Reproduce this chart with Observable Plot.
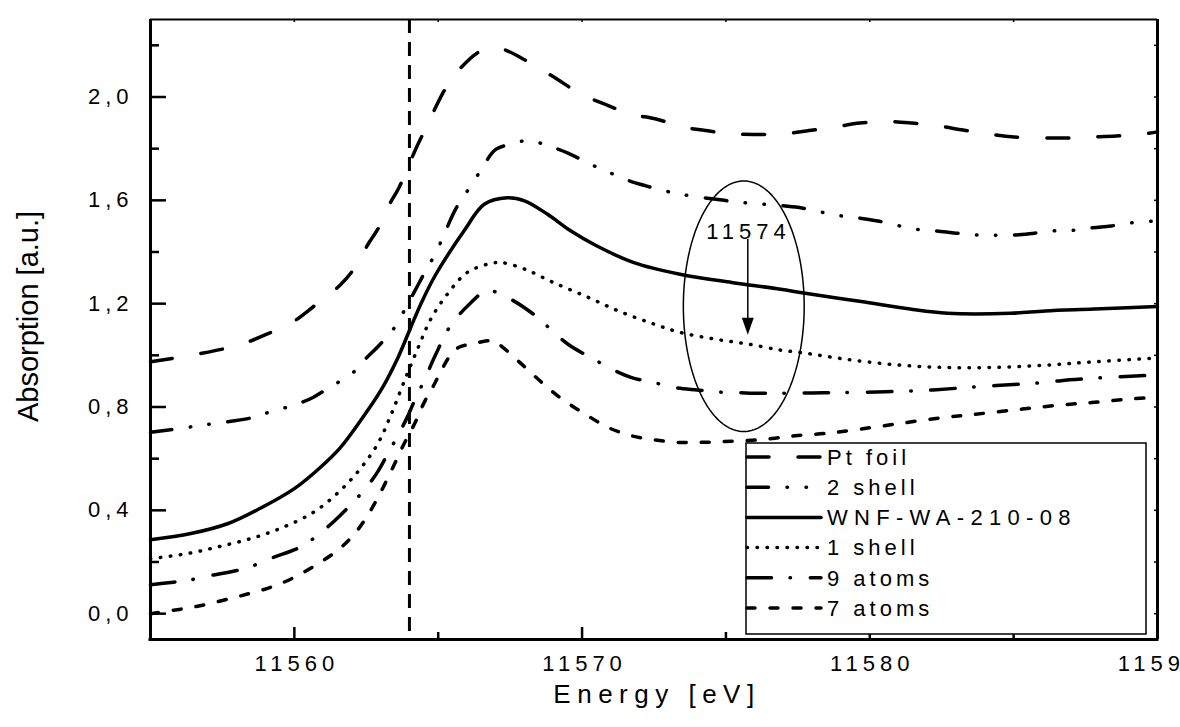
<!DOCTYPE html>
<html><head><meta charset="utf-8">
<script src="https://cdn.jsdelivr.net/npm/d3@7"></script>
<script src="https://cdn.jsdelivr.net/npm/@observablehq/plot@0.6"></script>
<style>
html,body{margin:0;padding:0;background:#fff;overflow:hidden;}
#wrap{position:relative;width:1180px;height:727px;}
#wrap svg{font-family:"Liberation Sans",Arial,sans-serif;}
.legend text{letter-spacing:4px;}
</style></head><body><div id="wrap"></div>
<script>
// ---- axes / ticks ----
const xDomain = [11555, 11590];
const yDomain = [-0.1, 2.3];
const xMajor = [11560, 11570, 11580, 11590];
const xMajorLabels = ["11560", "11570", "11580", "11590"];
const xMinor = [11565, 11575, 11585];
const yMajor = [0, 0.4, 0.8, 1.2, 1.6, 2.0];
const yMajorLabels = ["0,0", "0,4", "0,8", "1,2", "1,6", "2,0"];
const yMinor = [0.2, 0.6, 1.0, 1.4, 1.8, 2.2];
const xTitle = ["Energy [eV]"];
const yTitle = ["Absorption [a.u.]"];

// ---- series ----
const seriesNames = ["Pt foil", "2 shell", "WNF-WA-210-08", "1 shell", "9 atoms", "7 atoms"];

const ptFoil = [[11555,0.975],[11556.7,1.006],[11558.1,1.041],[11559.0,1.080],[11559.9,1.126],[11560.7,1.192],[11561.6,1.273],[11562.1,1.339],[11562.55,1.428],[11562.93,1.494],[11563.28,1.579],[11563.63,1.648],[11563.94,1.726],[11564.22,1.799],[11564.57,1.880],[11564.88,1.953],[11565.26,2.034],[11565.68,2.100],[11566.41,2.174],[11566.83,2.187],[11567.24,2.185],[11568.15,2.135],[11569.02,2.077],[11569.96,2.011],[11570.79,1.972],[11571.70,1.934],[11572.57,1.915],[11573.50,1.884],[11574.37,1.869],[11575.28,1.857],[11576.15,1.855],[11577.02,1.858],[11577.89,1.870],[11578.79,1.884],[11579.66,1.899],[11580.60,1.905],[11581.47,1.899],[11582.37,1.888],[11583.24,1.872],[11584.11,1.857],[11585.02,1.845],[11586.79,1.841],[11587.70,1.845],[11588.57,1.849],[11589.50,1.857],[11590,1.865]];

const twoShell = [[11555,0.702],[11556.2,0.720],[11557.2,0.736],[11558.55,0.759],[11559.28,0.786],[11559.94,0.805],[11560.63,0.836],[11561.26,0.879],[11561.96,0.925],[11562.41,0.979],[11563.0,1.045],[11563.45,1.103],[11564.04,1.219],[11564.32,1.277],[11564.60,1.335],[11564.91,1.395],[11565.26,1.482],[11565.61,1.567],[11566.25,1.675],[11566.59,1.737],[11567.0,1.797],[11567.58,1.819],[11568.16,1.832],[11568.74,1.814],[11569.49,1.784],[11570.25,1.742],[11570.88,1.711],[11571.58,1.678],[11572.22,1.656],[11572.97,1.634],[11573.55,1.621],[11574.94,1.600],[11575.64,1.591],[11576.33,1.585],[11577.55,1.572],[11578.42,1.552],[11579.0,1.540],[11579.66,1.531],[11580.28,1.520],[11581.03,1.501],[11581.61,1.488],[11582.30,1.482],[11583.0,1.473],[11583.75,1.466],[11584.33,1.465],[11585.09,1.466],[11585.72,1.473],[11586.42,1.482],[11587.06,1.484],[11587.75,1.494],[11588.39,1.501],[11589.15,1.514],[11590,1.520]];

const wnfSample = [[11555,0.286],[11556.4,0.310],[11557.7,0.349],[11558.8,0.407],[11560.0,0.484],[11560.9,0.566],[11561.6,0.643],[11562.3,0.747],[11563.0,0.863],[11563.6,0.991],[11564.04,1.107],[11564.4,1.200],[11564.9,1.310],[11565.9,1.482],[11566.6,1.585],[11567.4,1.610],[11568.0,1.598],[11568.8,1.546],[11569.6,1.482],[11570.5,1.424],[11571.8,1.359],[11573.4,1.314],[11575.2,1.282],[11576.9,1.256],[11577.7,1.241],[11579.7,1.208],[11581.4,1.179],[11582.7,1.163],[11584.9,1.163],[11586.1,1.172],[11587.8,1.179],[11590,1.189]];

const oneShell = [[11555,0.213],[11556.3,0.233],[11557.4,0.260],[11558.5,0.291],[11559.6,0.334],[11560.7,0.395],[11561.6,0.477],[11562.3,0.562],[11562.9,0.658],[11563.35,0.767],[11563.8,0.894],[11564.3,1.029],[11564.74,1.140],[11565.32,1.237],[11566.0,1.320],[11566.8,1.355],[11567.2,1.359],[11568.0,1.334],[11569.0,1.282],[11570.2,1.225],[11571.3,1.170],[11572.4,1.125],[11573.4,1.089],[11574.6,1.063],[11575.75,1.044],[11576.9,1.020],[11577.6,1.011],[11579.1,0.986],[11580.85,0.964],[11582.6,0.953],[11584.3,0.953],[11586.1,0.962],[11587.8,0.975],[11590,0.990]];

const nineAtoms = [[11555,0.112],[11555.8,0.122],[11556.3,0.129],[11557.2,0.150],[11558.0,0.167],[11558.6,0.187],[11559.2,0.215],[11560.2,0.257],[11560.8,0.303],[11561.4,0.360],[11562.1,0.438],[11562.5,0.488],[11562.9,0.550],[11563.3,0.630],[11563.6,0.690],[11563.9,0.755],[11564.2,0.830],[11564.5,0.900],[11564.9,1.000],[11565.4,1.110],[11566.1,1.200],[11566.7,1.250],[11567.4,1.224],[11568.3,1.160],[11568.9,1.102],[11569.5,1.044],[11570.5,0.979],[11571.1,0.943],[11571.7,0.915],[11572.7,0.889],[11573.3,0.874],[11574.0,0.866],[11574.9,0.857],[11575.5,0.855],[11576.2,0.853],[11577.0,0.853],[11578.4,0.855],[11579.9,0.857],[11581.6,0.863],[11582.2,0.866],[11583.8,0.879],[11584.4,0.883],[11586.1,0.895],[11586.65,0.902],[11588.3,0.915],[11588.9,0.918],[11590,0.924]];

const sevenAtoms = [[11555,0.0],[11555.8,0.013],[11556.6,0.028],[11557.5,0.051],[11558.4,0.077],[11559.2,0.103],[11559.9,0.135],[11560.7,0.185],[11561.5,0.245],[11562.1,0.310],[11562.6,0.390],[11563.0,0.470],[11563.4,0.560],[11563.8,0.655],[11564.2,0.740],[11564.5,0.815],[11564.85,0.885],[11565.1,0.940],[11565.45,1.005],[11565.7,1.030],[11566.0,1.041],[11566.4,1.050],[11566.9,1.056],[11567.1,1.044],[11567.9,0.966],[11568.6,0.895],[11569.3,0.831],[11570.1,0.773],[11570.9,0.721],[11571.7,0.689],[11572.5,0.673],[11573.3,0.663],[11574.1,0.663],[11574.9,0.666],[11575.75,0.670],[11576.6,0.678],[11577.4,0.689],[11578.5,0.698],[11579.7,0.715],[11581.1,0.737],[11582.6,0.760],[11583.75,0.773],[11585.3,0.792],[11586.65,0.808],[11587.8,0.818],[11589.0,0.831],[11590,0.837]];

const seriesData = [ptFoil, twoShell, wnfSample, oneShell, nineAtoms, sevenAtoms];

// ---- annotations ----
const edgeEnergy = [11564];
const annotationLabel = ["11574"];
const annotationLabelPos = [11575.68, 1.478];
const arrowFrom = [11575.76, 1.45];
const arrowTo = [11575.76, 1.080];
const ellipseCenter = [11575.62, 1.19];
const ellipseRadii = [2.1, 0.485];

// ---- styles (kept separate from data) ----
const lineStyles = [
  {dash: "22,29"},
  {dash: "21.5,18.5,0.5,18.5,0.5,18.5"},
  {dash: null},
  {dash: "0.5,9.5"},
  {dash: "24.5,18.5,0.5,19.8"},
  {dash: "8,15"}
];

const W = 1180, H = 727, mL = 150, mR = 23, mT = 19, mB = 88;
const pw = W - mL - mR, ph = H - mT - mB;

const ellipsePts = d3.range(0, 361, 2).map(a => [
  ellipseCenter[0] + ellipseRadii[0] * Math.cos(a * Math.PI / 180),
  ellipseCenter[1] + ellipseRadii[1] * Math.sin(a * Math.PI / 180)
]);

const downTriangle = {draw(ctx) { ctx.moveTo(0, 0); ctx.lineTo(-6, -17); ctx.lineTo(6, -17); ctx.closePath(); }};

const curveMarks = seriesData.map((data, i) => Plot.line(data, {
  x: d => d[0], y: d => d[1], curve: "catmull-rom",
  stroke: "black", strokeWidth: 3.5, strokeLinecap: "round",
  strokeDasharray: lineStyles[i].dash
}));

const chart = Plot.plot({
  width: W, height: H,
  marginLeft: mL, marginRight: mR, marginTop: mT, marginBottom: mB,
  x: {domain: xDomain, axis: null},
  y: {domain: yDomain, axis: null},
  style: {background: "white", color: "black", fontFamily: "'Liberation Sans', Arial, sans-serif", overflow: "visible"},
  marks: [
    Plot.ruleX(edgeEnergy, {x: d => d, stroke: "black", strokeWidth: 3, strokeDasharray: "14,9"}),
    ...curveMarks,
    Plot.line(ellipsePts, {x: d => d[0], y: d => d[1], stroke: "black", strokeWidth: 1.5, curve: "linear"}),
    Plot.link([0], {x1: () => arrowFrom[0], y1: () => arrowFrom[1], x2: () => arrowTo[0], y2: () => arrowTo[1] + 0.05, stroke: "black", strokeWidth: 1.5}),
    Plot.dot([arrowTo], {x: d => d[0], y: d => d[1], symbol: downTriangle, fill: "black", stroke: "none"}),
    Plot.text(annotationLabel, {x: () => annotationLabelPos[0], y: () => annotationLabelPos[1], text: d => d, fontSize: 22, dx: 3, fill: "black"}),
    // frame
    Plot.ruleX([xDomain[0]], {x: d => d, stroke: "black", strokeWidth: 3}),
    Plot.ruleX([xDomain[1]], {x: d => d, stroke: "black", strokeWidth: 3}),
    Plot.ruleY([yDomain[0]], {y: d => d, stroke: "black", strokeWidth: 3, strokeLinecap: "square"}),
    Plot.ruleY([yDomain[1]], {y: d => d, stroke: "black", strokeWidth: 2}),
    // inward ticks
    Plot.tickY(yMajor, {y: d => d, insetRight: pw - 16, stroke: "black", strokeWidth: 2.5}),
    Plot.tickY(yMinor, {y: d => d, insetRight: pw - 9, stroke: "black", strokeWidth: 2.5}),
    Plot.tickX(xMajor, {x: d => d, insetTop: ph - 12, stroke: "black", strokeWidth: 2.5}),
    Plot.tickX(xMinor, {x: d => d, insetTop: ph - 7, stroke: "black", strokeWidth: 2.5}),
    Plot.tickY([...yMajor, ...yMinor], {y: d => d, insetLeft: pw - 3, stroke: "black", strokeWidth: 1.5}),
    Plot.tickX([...xMajor, ...xMinor], {x: d => d, insetBottom: ph - 3, stroke: "black", strokeWidth: 1.5}),
    // tick labels
    Plot.text(yMajor, {y: d => d, text: (d, i) => yMajorLabels[i], frameAnchor: "left", dx: -17, textAnchor: "end", fontSize: 22, fill: "black"}),
    Plot.text(xMajor, {x: d => d, text: (d, i) => xMajorLabels[i], frameAnchor: "bottom", dy: 31, dx: 2.5, textAnchor: "middle", fontSize: 22, fill: "black"}),
    // titles
    Plot.text(xTitle, {text: d => d, frameAnchor: "bottom", dy: 63, dx: 3, textAnchor: "middle", fontSize: 26, fill: "black"}),
    Plot.text(yTitle, {text: d => d, frameAnchor: "left", rotate: -90, dx: -122, dy: -13, textAnchor: "middle", fontSize: 29, fill: "black"})
  ]
});

// letter spacing like the original figure's typography
d3.select(chart).selectAll("text").each(function () {
  const t = this.textContent;
  if (/^[0-9,]+$/.test(t)) this.style.letterSpacing = "5px";
  else if (t === xTitle[0]) this.style.letterSpacing = "6.5px";
});

const wrap = document.getElementById("wrap");
wrap.appendChild(chart);

// legend overlay (drawn inside the plot frame like the original)
const leg = d3.select(wrap).append("svg").attr("class", "legend")
  .style("position", "absolute").style("left", "745px").style("top", "442px")
  .attr("width", 404).attr("height", 195)
  .style("font-family", "'Liberation Sans', Arial, sans-serif");
leg.append("rect").attr("x", 1).attr("y", 1).attr("width", 400).attr("height", 191)
  .attr("fill", "white").attr("stroke", "black").attr("stroke-width", 1.5);
const rowY = i => 15 + i * 30.2;
seriesNames.forEach((name, i) => {
  leg.append("line").attr("x1", 2).attr("x2", 76).attr("y1", rowY(i)).attr("y2", rowY(i))
    .attr("stroke", "black").attr("stroke-width", 3.5).attr("stroke-linecap", "round")
    .attr("stroke-dasharray", lineStyles[i].dash);
  leg.append("text").attr("x", 82).attr("y", rowY(i)).attr("dy", "0.35em")
    .attr("font-size", 22).style("letter-spacing", name.length > 10 ? "6.3px" : "4px").text(name);
});
</script>
</body></html>
